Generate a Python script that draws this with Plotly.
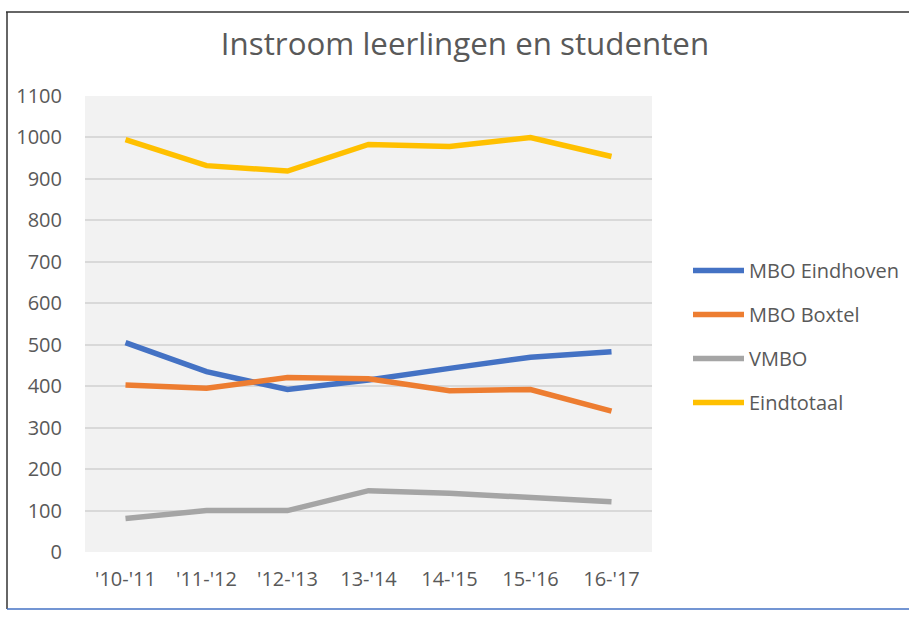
import plotly.graph_objects as go

categories = ["'10-'11", "'11-'12", "'12-'13", "13-'14", "14-'15", "15-'16", "16-'17"]
mbo_eindhoven = [505, 435, 392, 415, 443, 470, 483]
mbo_boxtel = [403, 395, 421, 418, 389, 392, 340]
vmbo = [81, 100, 100, 148, 142, 130, 121]
eindtotaal = [995, 932, 919, 983, 978, 1000, 954]
y_ticks = list(range(0, 1101, 100))

series = [
    ("MBO Eindhoven", mbo_eindhoven, "#4472C4"),
    ("MBO Boxtel", mbo_boxtel, "#ED7D31"),
    ("VMBO", vmbo, "#A5A5A5"),
    ("Eindtotaal", eindtotaal, "#FFC000"),
]

FONT = "Open Sans"
TXT = "#595959"
FS = 20

fig = go.Figure()
for i, (name, vals, col) in enumerate(series):
    fig.add_trace(go.Scatter(
        x=categories, y=vals, name=name, mode="lines",
        line=dict(color=col, width=5.5), legendgroup=f"g{i}",
    ))

L, R, T, B = 85, 652, 96, 552
W, H = 909, 619
pw, ph = R - L, B - T

def px(x):
    return (x - L) / pw

def py(y):
    return (B - y) / ph

fig.update_layout(
    width=W, height=H,
    margin=dict(l=L, r=W - R, t=T, b=H - B, pad=0, autoexpand=False),
    paper_bgcolor="white",
    plot_bgcolor="#F2F2F2",
    font=dict(family=FONT, color=TXT, size=FS),
    title=dict(text="Instroom leerlingen en studenten", x=465 / W, xanchor="center",
               y=1 - 44 / H, yanchor="middle",
               font=dict(family=FONT, size=31.3, color=TXT)),
    xaxis=dict(type="category", range=[-0.5, 6.5], showgrid=False, zeroline=False,
               showline=False, ticks="", tickfont=dict(size=FS, color=TXT),
               ticklabelstandoff=13),
    yaxis=dict(range=[0, 1100], tickvals=y_ticks, showgrid=True, gridcolor="#D9D9D9",
               gridwidth=2, zeroline=False, showline=False, ticks="",
               tickfont=dict(size=FS, color=TXT), ticklabelstandoff=22),
    legend=dict(x=px(688), xanchor="left", y=py(251), yanchor="top",
                font=dict(size=FS, color=TXT), tracegroupgap=15, itemwidth=51,
                bgcolor="rgba(0,0,0,0)"),
    showlegend=True,
)

fig.add_shape(type="line", xref="paper", yref="paper", x0=px(7), x1=px(7), y0=py(12), y1=py(609),
              line=dict(color="#333333", width=1.5))
fig.add_shape(type="line", xref="paper", yref="paper", x0=px(6), x1=px(909), y0=py(12), y1=py(12),
              line=dict(color="#333333", width=1.5))
fig.add_shape(type="line", xref="paper", yref="paper", x0=px(7), x1=px(909), y0=py(609), y1=py(609),
              line=dict(color="#4472C4", width=1.5))

fig.write_html("out.html", config={"displayModeBar": False},
               post_script="document.body.style.margin='0';")
